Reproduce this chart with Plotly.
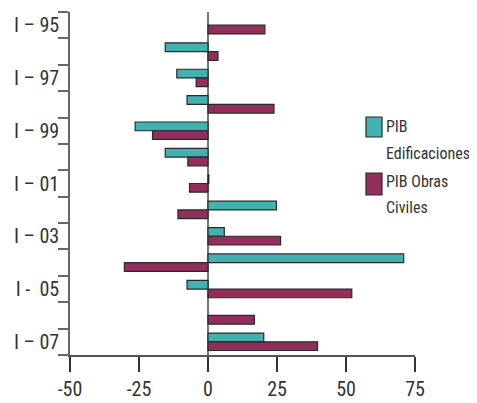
import plotly.graph_objects as go

categories = ["95", "96", "97", "98", "99", "00", "01", "02", "03", "04", "05", "06", "07"]
tick_labels = ["I – 95", "", "I – 97", "", "I – 99", "", "I – 01", "", "I – 03", "", "I -  05", "", "I – 07"]
edificaciones = [None, -15.5, -11.3, -7.6, -26.4, -15.5, 0.3, 24.8, 5.9, 70.9, -7.6, None, 20.2]
obras_civiles = [20.6, 3.6, -4.3, 23.9, -20.1, -7.3, -6.7, -10.9, 26.3, -30.3, 52.1, 16.8, 39.7]
series_names = ["PIB<br>Edificaciones", "PIB Obras<br>Civiles"]
x_ticks = [-50, -25, 0, 25, 50, 75]

TEAL = "#43b1b0"
MAROON = "#922e5c"
FONT = "Liberation Sans Narrow, Arial Narrow, Roboto Condensed, Liberation Sans, sans-serif"

fig = go.Figure()
fig.add_trace(go.Bar(y=categories, x=edificaciones, orientation="h", name="Edificaciones",
                     marker=dict(color=TEAL, line=dict(color="#2a2a2a", width=1.2)), showlegend=False))
fig.add_trace(go.Bar(y=categories, x=obras_civiles, orientation="h", name="Obras Civiles",
                     marker=dict(color=MAROON, line=dict(color="#2a2a2a", width=1.2)), showlegend=False))

# the page body adds an 8px offset, so the figure is 8px smaller and margins compensate
fig.update_layout(
    width=469, height=395,
    margin=dict(l=62, r=62, t=4, b=48, autoexpand=False),
    paper_bgcolor="white", plot_bgcolor="white",
    barmode="group", bargap=0.34, bargroupgap=0,
    font=dict(family=FONT, size=18, color="#333333"),
)
fig.update_yaxes(
    type="category", categoryorder="array", categoryarray=categories,
    autorange="reversed", automargin=False,
    tickvals=categories, ticktext=tick_labels,
    tickson="boundaries", ticks="outside", ticklen=10, tickcolor="#666666", tickwidth=1.5,
    showline=True, linecolor="#666666", linewidth=1.5,
    showgrid=False, ticklabelstandoff=5,
    tickfont=dict(family=FONT, size=20, color="#333333"),
)
fig.update_xaxes(
    range=[-50, 75], tickvals=x_ticks, ticktext=[str(v) for v in x_ticks],
    automargin=False,
    ticks="outside", ticklen=15, tickcolor="#333333", tickwidth=1.5,
    showline=True, linecolor="#555555", linewidth=1.5,
    showgrid=False, zeroline=True, zerolinecolor="#777777", zerolinewidth=1.5,
    tickfont=dict(family=FONT, size=20, color="#333333"),
)

# manual legend (larger swatches, like the reference)
def py(pix):
    return 1 - (pix - 12) / 343.0
def px(pix):
    return (pix - 70) / 345.0

swatches = [(TEAL, 117, 137), (MAROON, 173, 195)]
for color, top, bot in swatches:
    fig.add_shape(type="rect", xref="paper", yref="paper",
                  x0=px(366), x1=px(382), y0=py(bot), y1=py(top),
                  fillcolor=color, line=dict(color="#2a2a2a", width=1.2))
lines = [(series_names[0].split("<br>")[0], 126), (series_names[0].split("<br>")[1], 153),
         (series_names[1].split("<br>")[0], 181), (series_names[1].split("<br>")[1], 207)]
for txt, ycen in lines:
    fig.add_annotation(xref="paper", yref="paper", x=px(384), y=py(ycen), text=txt,
                       showarrow=False, xanchor="left", yanchor="middle",
                       font=dict(family=FONT, size=16, color="#333333"))

fig.write_html("out.html")
